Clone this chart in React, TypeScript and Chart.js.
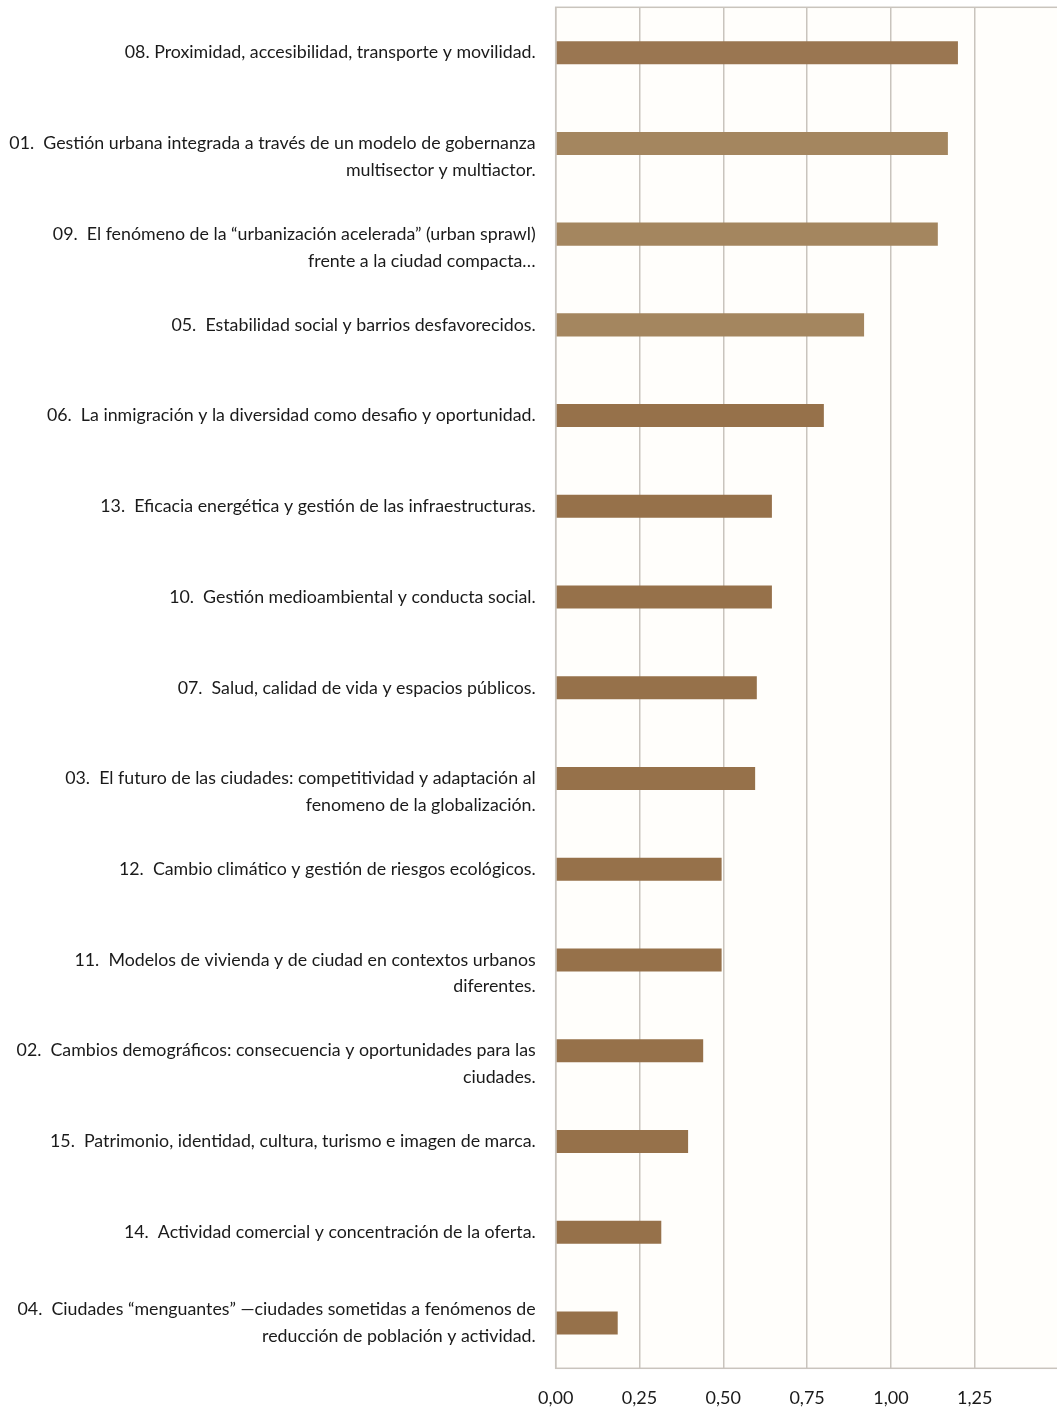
import React, { useEffect, useRef } from "react";
import { Chart, registerables } from "chart.js";

Chart.register(...registerables);

const categories: string[][] = [
  ["08. Proximidad, accesibilidad, transporte y movilidad."],
  ["", "01.  Gestión urbana integrada a través de un modelo de gobernanza", "multisector y multiactor."],
  ["", "09.  El fenómeno de la “urbanización acelerada” (urban sprawl)", "frente a la ciudad compacta…"],
  ["05.  Estabilidad social y barrios desfavorecidos."],
  ["06.  La inmigración y la diversidad como desafio y oportunidad."],
  ["13.  Eficacia energética y gestión de las infraestructuras."],
  ["10.  Gestión medioambiental y conducta social."],
  ["07.  Salud, calidad de vida y espacios públicos."],
  ["", "03.  El futuro de las ciudades: competitividad y adaptación al", "fenomeno de la globalización."],
  ["12.  Cambio climático y gestión de riesgos ecológicos."],
  ["", "11.  Modelos de vivienda y de ciudad en contextos urbanos", "diferentes."],
  ["", "02.  Cambios demográficos: consecuencia y oportunidades para las", "ciudades."],
  ["15.  Patrimonio, identidad, cultura, turismo e imagen de marca."],
  ["14.  Actividad comercial y concentración de la oferta."],
  ["04.  Ciudades “menguantes” —ciudades sometidas a fenómenos de", "reducción de población y actividad."],
];

const values: number[] = [1.2, 1.17, 1.14, 0.92, 0.8, 0.645, 0.645, 0.6, 0.595, 0.495, 0.495, 0.44, 0.395, 0.315, 0.185];

const barColors: string[] = [
  "#9a7651", "#a4865f", "#a4865f", "#a4865f", "#96714a", "#96714a", "#96714a", "#96714a",
  "#96714a", "#96714a", "#96714a", "#96714a", "#96714a", "#96714a", "#96714a",
];

const X_MIN = 0;
const X_MAX = 1.5;
const X_STEP = 0.25;

const FONT = "Lato, 'Noto Sans', sans-serif";
const GRID = "#c9c4bd";

const boxPlugin = {
  id: "boxPlugin",
  beforeDraw(chart: any) {
    const { ctx, chartArea } = chart;
    ctx.save();
    ctx.fillStyle = "#fffefb";
    ctx.fillRect(chartArea.left, chartArea.top, chartArea.right - chartArea.left, chartArea.bottom - chartArea.top);
    ctx.restore();
  },
  afterDatasetsDraw(chart: any) {
    const { ctx, chartArea } = chart;
    ctx.save();
    ctx.strokeStyle = GRID;
    ctx.lineWidth = 1.5;
    ctx.strokeRect(chartArea.left, chartArea.top, chartArea.right - chartArea.left, chartArea.bottom - chartArea.top);
    ctx.restore();
  },
};

export default function App() {
  const ref = useRef<HTMLCanvasElement | null>(null);

  useEffect(() => {
    if (!ref.current) return;
    const chart = new Chart(ref.current, {
      type: "bar",
      data: {
        labels: categories,
        datasets: [
          {
            data: values,
            backgroundColor: barColors,
            borderWidth: 0,
            categoryPercentage: 1,
            barPercentage: 0.254,
          },
        ],
      },
      plugins: [boxPlugin],
      options: {
        indexAxis: "y",
        animation: false,
        responsive: true,
        maintainAspectRatio: false,
        layout: { padding: { top: 7.3, right: 3.5, left: 0, bottom: 0 } },
        plugins: { legend: { display: false }, tooltip: { enabled: false } },
        scales: {
          x: {
            min: X_MIN,
            max: X_MAX,
            ticks: {
              stepSize: X_STEP,
              padding: 19,
              color: "#1a1a1a",
              font: { family: FONT, size: 18 },
              maxRotation: 0,
              callback: (v: any) => (Number(v) >= X_MAX ? "" : Number(v).toFixed(2).replace(".", ",")),
            },
            grid: { color: GRID, lineWidth: 1.5, drawTicks: false },
            border: { display: false },
            afterFit: (scale: any) => {
              scale.height = 38.7;
              scale.paddingLeft = 0;
              scale.paddingRight = 0;
            },
          },
          y: {
            ticks: {
              padding: 20,
              color: "#1a1a1a",
              font: { family: FONT, size: 17.8, lineHeight: 1.5 },
              autoSkip: false,
            },
            grid: { display: false, drawTicks: false },
            border: { display: false },
            afterFit: (scale: any) => {
              scale.width = 555.7;
              scale.paddingTop = 0;
              scale.paddingBottom = 0;
            },
          },
        },
      },
    });
    return () => chart.destroy();
  }, []);

  return (
    <div style={{ position: "absolute", left: 0, top: 0, width: 1057, height: 1407, overflow: "hidden", background: "#fff" }}>
      <div style={{ position: "relative", width: 1062, height: 1407 }}>
        <canvas ref={ref} />
      </div>
    </div>
  );
}
